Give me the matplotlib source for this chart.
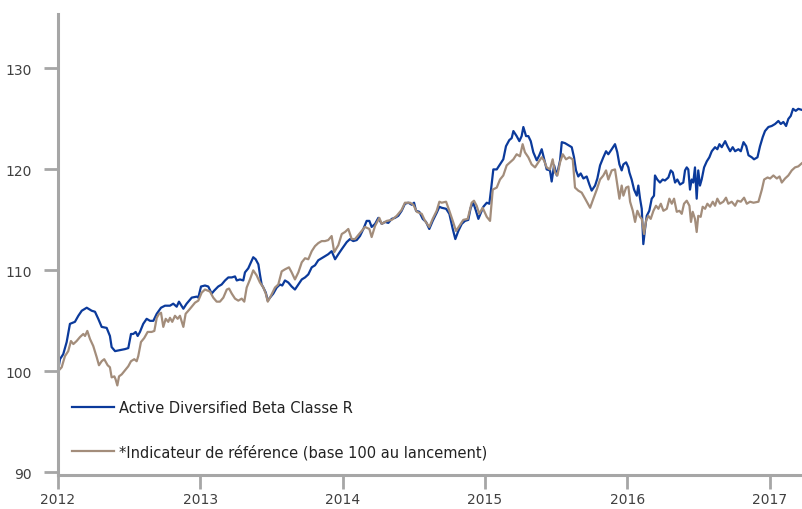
import numpy as np
import matplotlib
matplotlib.use('Agg')
import matplotlib.pyplot as plt

# ### Data (decimal years, base 100 at launch)
fund_t = [2012.000, 2012.014, 2012.037, 2012.061, 2012.084, 2012.119, 2012.143, 2012.167, 2012.202, 2012.237,
          2012.260, 2012.283, 2012.307, 2012.342, 2012.365, 2012.377, 2012.401, 2012.436, 2012.471, 2012.494,
          2012.513, 2012.529, 2012.546, 2012.560, 2012.576, 2012.599, 2012.623, 2012.647, 2012.670, 2012.694,
          2012.724, 2012.752, 2012.787, 2012.810, 2012.834, 2012.850, 2012.881, 2012.904, 2012.940, 2012.975,
          2012.986, 2013.005, 2013.033, 2013.056, 2013.080, 2013.098, 2013.126, 2013.150, 2013.174, 2013.197,
          2013.221, 2013.244, 2013.256, 2013.279, 2013.302, 2013.314, 2013.337, 2013.356, 2013.372, 2013.389,
          2013.408, 2013.419, 2013.431, 2013.443, 2013.460, 2013.474, 2013.490, 2013.513, 2013.537, 2013.560,
          2013.576, 2013.595, 2013.618, 2013.642, 2013.665, 2013.689, 2013.713, 2013.736, 2013.759, 2013.783,
          2013.806, 2013.829, 2013.853, 2013.876, 2013.899, 2013.923, 2013.947, 2013.970, 2013.994, 2014.029,
          2014.052, 2014.075, 2014.099, 2014.122, 2014.146, 2014.169, 2014.188, 2014.204, 2014.228, 2014.251,
          2014.275, 2014.298, 2014.321, 2014.345, 2014.368, 2014.391, 2014.415, 2014.438, 2014.462, 2014.486,
          2014.502, 2014.516, 2014.539, 2014.563, 2014.586, 2014.609, 2014.633, 2014.661, 2014.680, 2014.696,
          2014.727, 2014.750, 2014.774, 2014.792, 2014.813, 2014.837, 2014.860, 2014.883, 2014.900, 2014.918,
          2014.937, 2014.954, 2014.977, 2014.989, 2015.013, 2015.031, 2015.043, 2015.059, 2015.083, 2015.106,
          2015.129, 2015.148, 2015.171, 2015.188, 2015.200, 2015.223, 2015.242, 2015.258, 2015.270, 2015.289,
          2015.305, 2015.322, 2015.340, 2015.364, 2015.382, 2015.399, 2015.415, 2015.434, 2015.457, 2015.469,
          2015.486, 2015.505, 2015.528, 2015.540, 2015.563, 2015.586, 2015.610, 2015.626, 2015.640, 2015.656,
          2015.673, 2015.692, 2015.715, 2015.734, 2015.750, 2015.774, 2015.790, 2015.809, 2015.832, 2015.851,
          2015.867, 2015.891, 2015.914, 2015.930, 2015.945, 2015.961, 2015.973, 2015.992, 2016.008, 2016.015,
          2016.031, 2016.048, 2016.067, 2016.078, 2016.090, 2016.102, 2016.113, 2016.125, 2016.137, 2016.155,
          2016.172, 2016.188, 2016.195, 2016.211, 2016.230, 2016.249, 2016.265, 2016.289, 2016.306, 2016.320,
          2016.336, 2016.352, 2016.371, 2016.394, 2016.406, 2016.418, 2016.429, 2016.441, 2016.453, 2016.464,
          2016.476, 2016.488, 2016.499, 2016.511, 2016.523, 2016.540, 2016.559, 2016.577, 2016.594, 2016.617,
          2016.633, 2016.648, 2016.664, 2016.688, 2016.704, 2016.723, 2016.741, 2016.758, 2016.781, 2016.798,
          2016.817, 2016.836, 2016.852, 2016.875, 2016.891, 2016.915, 2016.933, 2016.952, 2016.968, 2016.992,
          2017.015, 2017.039, 2017.062, 2017.079, 2017.097, 2017.116, 2017.132, 2017.149, 2017.165, 2017.184,
          2017.202, 2017.226]
fund_v = [100.0, 101.2, 101.7, 102.9, 104.7, 104.9, 105.5, 106.0, 106.3, 106.0,
          105.9, 105.2, 104.4, 104.3, 103.5, 102.4, 102.0, 102.1, 102.2, 102.3,
          103.7, 103.7, 103.9, 103.5, 103.9, 104.7, 105.2, 105.0, 105.0, 105.7,
          106.3, 106.5, 106.5, 106.7, 106.4, 106.9, 106.2, 106.7, 107.3, 107.4,
          107.3, 108.4, 108.5, 108.4, 107.7, 108.0, 108.4, 108.6, 109.0, 109.3,
          109.3, 109.4, 109.0, 109.1, 109.0, 109.8, 110.2, 110.8, 111.3, 111.1,
          110.6, 109.6, 108.6, 108.3, 107.8, 107.0, 107.3, 107.7, 108.3, 108.6,
          108.5, 109.0, 108.8, 108.4, 108.1, 108.6, 109.1, 109.3, 109.6, 110.3,
          110.5, 111.0, 111.2, 111.4, 111.6, 111.9, 111.1, 111.6, 112.1, 112.8,
          113.1, 112.9, 113.0, 113.4, 114.1, 114.9, 114.9, 114.3, 114.6, 115.2,
          114.6, 114.8, 114.7, 115.1, 115.2, 115.4, 115.9, 116.6, 116.7, 116.5,
          116.7, 115.9, 115.8, 115.1, 114.8, 114.1, 114.9, 115.7, 116.3, 116.2,
          116.1, 115.6, 114.1, 113.1, 113.9, 114.6, 114.9, 115.0, 116.2, 116.7,
          115.9, 115.1, 115.9, 116.3, 116.7, 116.6, 118.0, 120.0, 120.0, 120.5,
          121.0, 122.3, 122.9, 123.1, 123.8, 123.3, 122.8, 123.3, 124.2, 123.3,
          123.3, 122.8, 121.7, 120.9, 121.4, 122.0, 121.1, 120.0, 119.9, 118.8,
          120.4, 119.4, 120.9, 122.7, 122.6, 122.4, 122.2, 121.2, 119.9, 119.3,
          119.6, 119.1, 119.3, 118.5, 117.9, 118.4, 119.1, 120.4, 121.2, 121.8,
          121.5, 122.0, 122.5, 121.7, 120.5, 119.9, 120.5, 120.7, 120.2, 119.7,
          119.0, 118.0, 117.4, 118.4, 117.1, 116.1, 112.6, 114.1, 115.4, 115.9,
          117.1, 117.4, 119.4, 119.0, 118.7, 119.0, 118.9, 119.2, 119.9, 119.7,
          118.7, 119.0, 118.5, 118.7, 119.9, 120.2, 120.0, 118.0, 119.0, 118.7,
          120.2, 117.1, 119.9, 118.4, 119.0, 120.2, 120.8, 121.2, 121.8, 122.2,
          122.0, 122.5, 122.2, 122.8, 122.3, 121.8, 122.2, 121.8, 122.0, 121.8,
          122.7, 122.3, 121.4, 121.2, 121.0, 121.2, 122.3, 123.2, 123.8, 124.2,
          124.3, 124.5, 124.8, 124.5, 124.7, 124.3, 125.0, 125.3, 126.0, 125.8,
          126.0, 125.9]

bench_t = [2012.000, 2012.026, 2012.049, 2012.072, 2012.091, 2012.108, 2012.131, 2012.155, 2012.178, 2012.190,
           2012.206, 2012.225, 2012.248, 2012.272, 2012.288, 2012.307, 2012.325, 2012.349, 2012.365, 2012.377,
           2012.396, 2012.405, 2012.417, 2012.429, 2012.448, 2012.471, 2012.494, 2012.513, 2012.536, 2012.553,
           2012.564, 2012.583, 2012.606, 2012.630, 2012.658, 2012.677, 2012.694, 2012.710, 2012.724, 2012.740,
           2012.757, 2012.775, 2012.787, 2012.803, 2012.822, 2012.841, 2012.857, 2012.881, 2012.897, 2012.928,
           2012.963, 2012.986, 2013.010, 2013.033, 2013.068, 2013.091, 2013.115, 2013.138, 2013.162, 2013.186,
           2013.202, 2013.221, 2013.244, 2013.267, 2013.291, 2013.309, 2013.326, 2013.349, 2013.372, 2013.396,
           2013.419, 2013.443, 2013.460, 2013.474, 2013.497, 2013.525, 2013.548, 2013.572, 2013.595, 2013.623,
           2013.642, 2013.665, 2013.689, 2013.713, 2013.736, 2013.759, 2013.783, 2013.806, 2013.829, 2013.853,
           2013.876, 2013.899, 2013.923, 2013.941, 2013.970, 2013.994, 2014.017, 2014.040, 2014.064, 2014.087,
           2014.122, 2014.157, 2014.188, 2014.204, 2014.228, 2014.258, 2014.275, 2014.310, 2014.345, 2014.380,
           2014.415, 2014.438, 2014.474, 2014.497, 2014.521, 2014.556, 2014.579, 2014.609, 2014.633, 2014.661,
           2014.680, 2014.696, 2014.727, 2014.750, 2014.774, 2014.797, 2014.825, 2014.848, 2014.879, 2014.907,
           2014.923, 2014.942, 2014.960, 2014.984, 2015.013, 2015.036, 2015.055, 2015.083, 2015.106, 2015.129,
           2015.153, 2015.176, 2015.200, 2015.223, 2015.246, 2015.265, 2015.281, 2015.305, 2015.328, 2015.352,
           2015.375, 2015.399, 2015.415, 2015.434, 2015.457, 2015.476, 2015.492, 2015.509, 2015.528, 2015.547,
           2015.570, 2015.593, 2015.617, 2015.633, 2015.656, 2015.680, 2015.704, 2015.739, 2015.762, 2015.786,
           2015.809, 2015.832, 2015.851, 2015.867, 2015.891, 2015.914, 2015.930, 2015.945, 2015.961, 2015.973,
           2015.992, 2016.008, 2016.020, 2016.039, 2016.055, 2016.071, 2016.090, 2016.102, 2016.118, 2016.132,
           2016.148, 2016.165, 2016.184, 2016.202, 2016.219, 2016.236, 2016.254, 2016.278, 2016.296, 2016.313,
           2016.329, 2016.348, 2016.367, 2016.383, 2016.399, 2016.418, 2016.437, 2016.448, 2016.460, 2016.476,
           2016.488, 2016.499, 2016.516, 2016.530, 2016.547, 2016.563, 2016.582, 2016.601, 2016.617, 2016.633,
           2016.652, 2016.675, 2016.694, 2016.710, 2016.734, 2016.758, 2016.775, 2016.798, 2016.821, 2016.840,
           2016.863, 2016.887, 2016.922, 2016.946, 2016.962, 2016.986, 2017.004, 2017.027, 2017.051, 2017.070,
           2017.086, 2017.109, 2017.132, 2017.156, 2017.179, 2017.202, 2017.226]
bench_v = [100.0, 100.4, 101.5, 102.0, 103.0, 102.7, 103.0, 103.4, 103.7, 103.5,
           104.0, 103.2, 102.5, 101.4, 100.6, 101.0, 101.2, 100.6, 100.4, 99.4,
           99.5, 99.2, 98.6, 99.5, 99.7, 100.1, 100.5, 101.0, 101.2, 101.0,
           101.5, 102.9, 103.3, 103.9, 103.9, 104.0, 105.3, 105.7, 105.8, 104.4,
           105.2, 104.9, 105.3, 104.9, 105.5, 105.2, 105.5, 104.4, 105.7, 106.2,
           106.8, 107.0, 107.8, 108.1, 107.9, 107.3, 106.9, 106.9, 107.3, 108.1,
           108.2, 107.7, 107.2, 107.0, 107.2, 106.9, 108.3, 109.1, 110.0, 109.5,
           108.8, 108.3, 107.7, 106.9, 107.5, 108.3, 108.6, 109.9, 110.1, 110.3,
           109.8, 109.1, 109.8, 110.8, 111.2, 111.1, 111.9, 112.4, 112.7, 112.9,
           112.9, 113.0, 113.4, 111.8, 112.5, 113.6, 113.8, 114.1, 113.1, 113.1,
           113.7, 114.3, 114.1, 113.3, 114.4, 115.2, 114.6, 114.9, 115.0, 115.4,
           116.0, 116.7, 116.7, 116.5, 115.8, 115.6, 114.9, 114.3, 115.1, 115.9,
           116.8, 116.7, 116.8, 115.9, 114.9, 113.9, 114.5, 115.0, 115.1, 116.7,
           116.9, 116.4, 115.6, 116.2, 115.3, 114.9, 118.0, 118.2, 119.0, 119.4,
           120.4, 120.7, 121.0, 121.5, 121.3, 122.5, 121.7, 121.2, 120.5, 120.2,
           120.7, 121.2, 120.9, 120.2, 120.0, 121.0, 119.7, 119.4, 120.7, 121.5,
           121.0, 121.2, 121.0, 118.2, 117.9, 117.7, 117.1, 116.2, 117.1, 118.0,
           119.0, 119.4, 119.9, 119.0, 119.9, 120.0, 118.5, 117.1, 118.4, 117.4,
           118.2, 118.3, 116.8, 115.9, 114.8, 115.9, 115.3, 115.1, 113.6, 114.9,
           115.4, 115.1, 115.9, 116.4, 116.1, 116.6, 115.9, 116.1, 117.1, 116.6,
           117.1, 115.8, 115.9, 115.6, 116.6, 116.9, 116.4, 114.8, 115.8, 115.1,
           113.8, 115.4, 115.3, 116.3, 116.1, 116.6, 116.3, 116.8, 116.4, 117.1,
           116.6, 116.8, 117.2, 116.6, 116.8, 116.4, 116.9, 116.8, 117.2, 116.6,
           116.8, 116.7, 116.8, 118.0, 119.0, 119.2, 119.1, 119.4, 119.1, 119.3,
           118.7, 119.1, 119.4, 119.9, 120.2, 120.3, 120.6]

fund_label = 'Active Diversified Beta Classe R'
bench_label = '*Indicateur de référence (base 100 au lancement)'
x_ticks = [2012, 2013, 2014, 2015, 2016, 2017]
y_ticks = [90, 100, 110, 120, 130]

# ### Plot
grey = '#a6a6a6'
txt = '#404040'

fig = plt.figure(figsize=(8.02, 5.10), dpi=100, facecolor='white')
ax = fig.add_axes([0.0723, 0.0657, 0.9277, 0.905])

ax.plot(fund_t, fund_v, '-', c='#0b3a9b', lw=1.6, label=fund_label)
ax.plot(bench_t, bench_v, '-', c='#a38d7b', lw=1.6, label=bench_label)

ax.set_xlim(2012, 2017.228)
ax.set_ylim(89.68, 135.4)
ax.set_xticks(x_ticks)
ax.set_xticklabels([str(x) for x in x_ticks])
ax.set_yticks(y_ticks)

for s in ['top', 'right']:
    ax.spines[s].set_visible(False)
for s in ['left', 'bottom']:
    ax.spines[s].set_color(grey)
    ax.spines[s].set_linewidth(2.2)
ax.tick_params(axis='both', colors=grey, width=2, length=10, labelcolor=txt, labelsize=10)
ax.tick_params(axis='y', pad=9)
ax.tick_params(axis='x', pad=2)

leg = ax.legend(loc='upper left', bbox_to_anchor=(0.0188, 0.164), frameon=False,
                fontsize=10.5, handlelength=2.9, handletextpad=0.35, labelspacing=2.0,
                borderpad=0, borderaxespad=0)
for t in leg.get_texts():
    t.set_color('#222222')

fig.savefig('out.png', dpi=100, facecolor='white')
